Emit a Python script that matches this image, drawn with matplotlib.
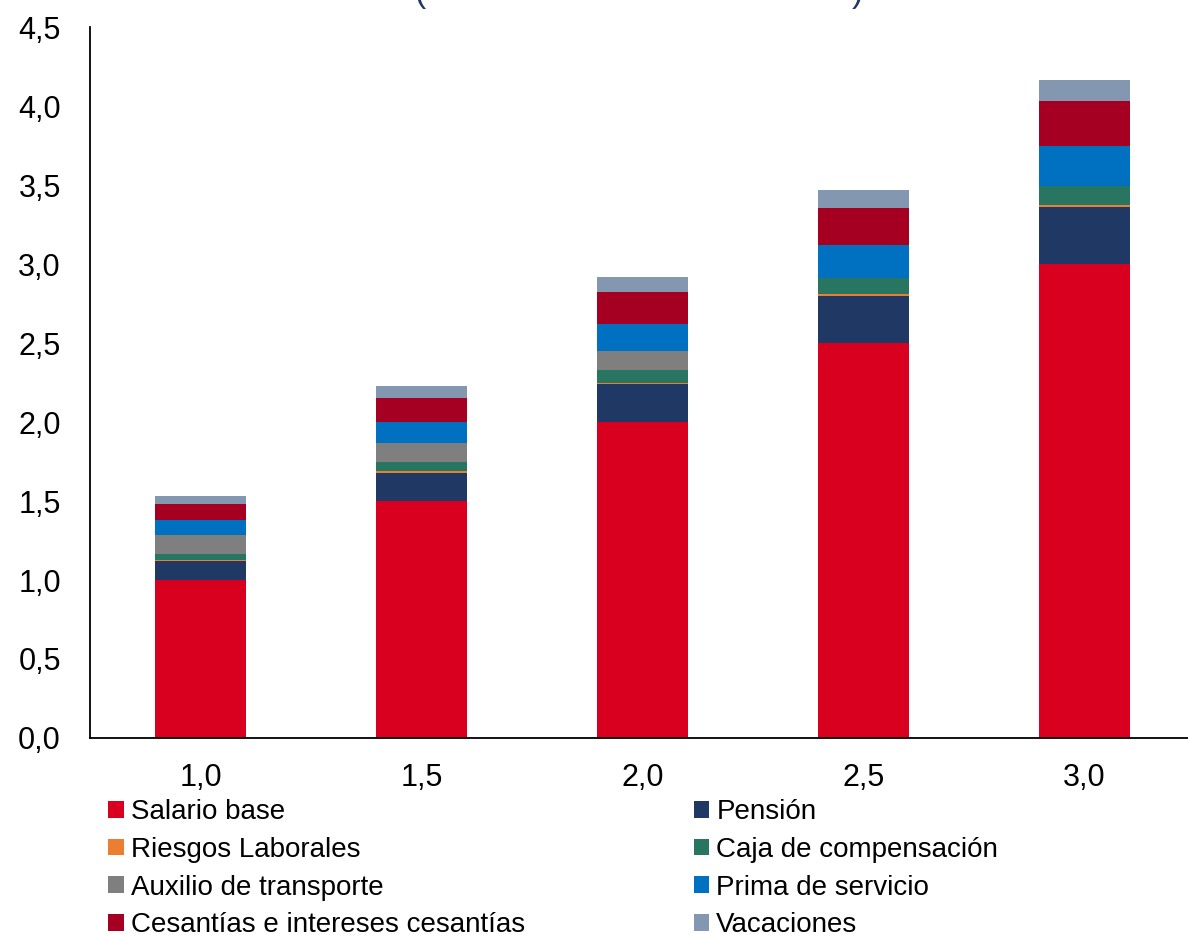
import matplotlib.pyplot as plt
import numpy as np

plt.rcParams['font.family'] = ['Liberation Sans', 'DejaVu Sans']

# salario en múltiplos del mínimo
categorias = ['1,0', '1,5', '2,0', '2,5', '3,0']

salario = [1.0, 1.5, 2.0, 2.5, 3.0]
pension = [0.12, 0.18, 0.24, 0.30, 0.36]
riesgos = [0.005, 0.008, 0.010, 0.013, 0.016]
caja = [0.04, 0.06, 0.08, 0.10, 0.12]
auxilio = [0.117, 0.117, 0.117, 0.0, 0.0]
prima = [0.095, 0.137, 0.175, 0.208, 0.253]
cesantias = [0.104, 0.150, 0.200, 0.232, 0.285]
vacaciones = [0.049, 0.074, 0.095, 0.116, 0.133]

series = [
    ('Salario base', salario, '#D9001F'),
    ('Pensión', pension, '#1F3864'),
    ('Riesgos Laborales', riesgos, '#ED7D31'),
    ('Caja de compensación', caja, '#287561'),
    ('Auxilio de transporte', auxilio, '#7F7F7F'),
    ('Prima de servicio', prima, '#0070C0'),
    ('Cesantías e intereses cesantías', cesantias, '#A50021'),
    ('Vacaciones', vacaciones, '#8497B0'),
]

fig = plt.figure(figsize=(11.88, 9.35), dpi=100)
ax = fig.add_axes([0.0758, 0.2107, 0.93, 0.7604])

x = np.arange(len(categorias))
base = np.zeros(len(categorias))
handles = {}
for nombre, valores, color in series:
    b = ax.bar(x, valores, 0.41, bottom=base, color=color, label=nombre)
    handles[nombre] = b
    base = base + np.array(valores)

ax.set_xlim(-0.5, 4.5)
ax.set_ylim(0, 4.5)
ax.set_yticks(np.arange(0, 4.51, 0.5))
ax.set_yticklabels([f'{v:.1f}'.replace('.', ',') for v in np.arange(0, 4.51, 0.5)])
ax.set_xticks(x)
ax.set_xticklabels(categorias)
ax.tick_params(axis='y', length=0, pad=21, labelsize=22)
ax.tick_params(axis='x', length=0, pad=18, labelsize=22)
ax.spines['top'].set_visible(False)
ax.spines['right'].set_visible(False)
ax.spines['left'].set_linewidth(1.3)
ax.spines['bottom'].set_linewidth(1.3)

# orden por columnas para que se lea por filas
orden = ['Salario base', 'Riesgos Laborales', 'Auxilio de transporte',
         'Cesantías e intereses cesantías', 'Pensión', 'Caja de compensación',
         'Prima de servicio', 'Vacaciones']
fig.legend([handles[n] for n in orden], orden, ncol=2, loc='upper left',
           bbox_to_anchor=(0.0795, 0.160), frameon=False, fontsize=20,
           handlelength=0.55, handleheight=0.55, handletextpad=0.25,
           labelspacing=0.42, columnspacing=6.1, borderpad=0)

# título cortado en la parte superior
fig.text(415 / 1188, 1 - 9 / 935, '(', color='#1F3864', fontsize=24, va='bottom')
fig.text(852 / 1188, 1 - 9 / 935, ')', color='#1F3864', fontsize=24, va='bottom')

fig.savefig('out.png', dpi=100)
